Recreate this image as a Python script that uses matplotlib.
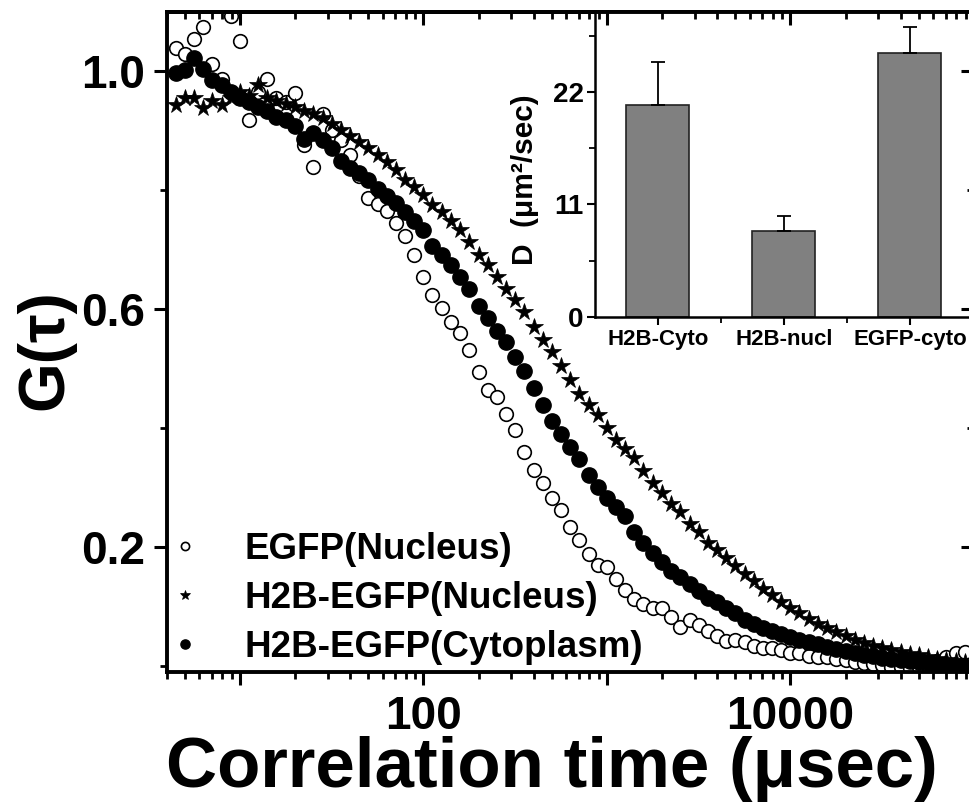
import numpy as np
import matplotlib
matplotlib.use("Agg")
import matplotlib.pyplot as plt
from matplotlib.ticker import LogLocator, NullFormatter, FixedLocator

plt.rcParams["font.family"] = ["Liberation Sans", "DejaVu Sans"]
plt.rcParams["font.weight"] = "bold"

# lag times (usec), shared by the three correlation curves
tau = [4.47, 5.01, 5.62, 6.31, 7.08, 7.94, 8.91,
       10, 11.2, 12.6, 14.1, 15.8, 17.8, 20, 22.4, 25.1, 28.2, 31.6, 35.5, 39.8, 44.7, 50.1, 56.2, 63.1, 70.8, 79.4, 89.1,
       100, 112, 126, 141, 158, 178, 200, 224, 251, 282, 316, 355, 398, 447, 501, 562, 631, 708, 794, 891,
       1000, 1120, 1260, 1410, 1580, 1780, 2000, 2240, 2510, 2820, 3160, 3550, 3980, 4470, 5010, 5620, 6310, 7080, 7940, 8910,
       10000, 11200, 12600, 14100, 15800, 17800, 20000, 22400, 25100, 28200, 31600, 35500, 39800, 44700, 50100, 56200, 63100, 70800, 79400, 89100]

g_egfp_nuc = [1.040, 1.030, 1.055, 1.074, 1.013, 0.988, 1.094,
              1.052, 0.918, 0.965, 0.987, 0.955, 0.948, 0.963, 0.876, 0.839, 0.929, 0.901, 0.884, 0.859, 0.825, 0.787, 0.777, 0.766, 0.746, 0.723, 0.691,
              0.654, 0.624, 0.602, 0.578, 0.561, 0.531, 0.494, 0.464, 0.452, 0.424, 0.397, 0.360, 0.329, 0.308, 0.282, 0.262, 0.234, 0.212, 0.188, 0.170,
              0.166, 0.146, 0.128, 0.113, 0.104, 0.097, 0.097, 0.082, 0.066, 0.077, 0.069, 0.059, 0.050, 0.042, 0.044, 0.040, 0.034, 0.030, 0.030, 0.027,
              0.022, 0.022, 0.017, 0.015, 0.015, 0.012, 0.010, 0.007, 0.005, 0.003, 0.002, -0.002, -0.002, -0.003, -0.002, 0.000, 0.008, 0.015, 0.022, 0.024]

g_h2b_nuc = [0.943, 0.955, 0.955, 0.939, 0.951, 0.943, 0.956,
             0.965, 0.958, 0.978, 0.955, 0.950, 0.946, 0.941, 0.934, 0.928, 0.921, 0.911, 0.901, 0.891, 0.881, 0.871, 0.859, 0.847, 0.834, 0.818, 0.805,
             0.792, 0.776, 0.763, 0.748, 0.733, 0.714, 0.692, 0.674, 0.655, 0.635, 0.615, 0.595, 0.571, 0.548, 0.528, 0.504, 0.481, 0.457, 0.439, 0.422,
             0.400, 0.380, 0.365, 0.350, 0.328, 0.308, 0.291, 0.272, 0.259, 0.239, 0.225, 0.207, 0.195, 0.182, 0.168, 0.155, 0.143, 0.129, 0.119, 0.108,
             0.097, 0.089, 0.079, 0.071, 0.064, 0.057, 0.050, 0.044, 0.039, 0.034, 0.030, 0.027, 0.024, 0.020, 0.018, 0.015, 0.012, 0.010, 0.008, 0.007]

g_h2b_cyto = [0.998, 1.002, 1.022, 1.005, 0.985, 0.978, 0.965,
              0.956, 0.948, 0.941, 0.933, 0.924, 0.918, 0.908, 0.887, 0.896, 0.884, 0.872, 0.850, 0.837, 0.830, 0.817, 0.802, 0.790, 0.778, 0.763, 0.748,
              0.733, 0.706, 0.691, 0.674, 0.654, 0.635, 0.605, 0.585, 0.563, 0.545, 0.519, 0.497, 0.467, 0.439, 0.413, 0.390, 0.368, 0.348, 0.321, 0.301,
              0.282, 0.267, 0.252, 0.225, 0.207, 0.190, 0.175, 0.160, 0.150, 0.138, 0.126, 0.114, 0.108, 0.097, 0.089, 0.077, 0.071, 0.064, 0.059, 0.054,
              0.049, 0.044, 0.040, 0.037, 0.032, 0.029, 0.025, 0.022, 0.018, 0.017, 0.013, 0.012, 0.010, 0.008, 0.007, 0.005, 0.003, 0.002, 0.000, -0.002]

# inset: diffusion coefficients
inset_labels = ["H2B-Cyto", "H2B-nucl", "EGFP-cyto"]
inset_d = [20.7, 8.4, 25.8]
inset_err = [4.2, 1.5, 2.5]

fig = plt.figure(figsize=(9.69, 8.08), dpi=100)
pos = [0.1723, 0.1683, 0.8328, 0.8168]
ax = fig.add_axes(pos)

ax.plot(tau, g_egfp_nuc, "o", ms=9.8, mfc="white", mec="black", mew=1.2, label="EGFP(Nucleus)")
ax.plot(tau, g_h2b_nuc, "*", ms=13, color="black", mew=0.5, label="H2B-EGFP(Nucleus)")
ax.plot(tau, g_h2b_cyto, "o", ms=11, color="black", label="H2B-EGFP(Cytoplasm)")

ax.set_xscale("log")
ax.set_xlim(4, 1e5)
ax.set_ylim(-0.01, 1.1)
ax.set_xticks([10, 100, 1000, 10000])
ax.set_xticklabels(["", "100", "", "10000"])
ax.xaxis.set_minor_locator(LogLocator(base=10, subs=range(2, 10)))
ax.xaxis.set_minor_formatter(NullFormatter())
ax.yaxis.set_major_locator(FixedLocator([0.2, 0.6, 1.0]))
ax.yaxis.set_minor_locator(FixedLocator([0.0, 0.4, 0.8]))
ax.set_yticklabels(["0.2", "0.6", "1.0"])
ax.tick_params(which="major", direction="out", length=9.5, width=2.2, labelsize=33, pad=6)
ax.tick_params(which="minor", direction="out", length=5, width=2)
ax.tick_params(axis="x", which="major", pad=7)
for s in ax.spines.values():
    s.set_linewidth(2.8)

ax.legend(loc="lower left", bbox_to_anchor=(0.0, 0.011), frameon=False, fontsize=26.5,
          markerscale=0.6, handlelength=1.0, handletextpad=1.1, borderpad=0,
          borderaxespad=0, labelspacing=0.38)

# inset bar chart
ins = fig.add_axes([0.614, 0.6077, 0.390, 0.3775])
xpos = np.arange(1, len(inset_labels) + 1)
ins.bar(xpos, inset_d, width=0.5, color="#808080", edgecolor="#222222", linewidth=1.2, zorder=2)
ins.errorbar(xpos, inset_d, yerr=[np.zeros(len(inset_err)), inset_err], fmt="none",
             ecolor="black", elinewidth=1.3, capsize=5, capthick=1.3, zorder=3)
ins.set_xlim(0.5, 3.5)
ins.set_ylim(0, 29.8)
ins.set_xticks(xpos)
ins.set_xticklabels(inset_labels, fontsize=16)
ins.set_xticks([1.5, 2.5], minor=True)
ins.set_yticks([0, 11, 22])
ins.set_yticks([5.5, 16.5, 27.5], minor=True)
ins.tick_params(which="major", direction="out", length=6, width=1.5, labelsize=20, pad=2)
ins.tick_params(axis="x", which="major", labelsize=16, pad=3)
ins.tick_params(which="minor", direction="out", length=4, width=1.3)
ins.spines["top"].set_visible(False)
ins.spines["right"].set_visible(False)
ins.spines["left"].set_linewidth(1.8)
ins.spines["bottom"].set_linewidth(1.8)
ins.text(-0.185, 0.449, "D  (\u03bcm\u00b2/sec)", transform=ins.transAxes, rotation=90,
         ha="center", va="center", fontsize=21.5)

# mirrored ticks on top and right, drawn over the inset
ov = fig.add_axes(pos, sharex=ax, sharey=ax)
ov.patch.set_visible(False)
ov.tick_params(which="both", direction="in", bottom=False, left=False, top=True, right=True,
               labelbottom=False, labelleft=False)
ov.tick_params(which="major", length=9.5, width=2.2)
ov.tick_params(which="minor", length=5, width=2)
ov.spines["left"].set_visible(False)
ov.spines["bottom"].set_visible(False)
ov.spines["top"].set_linewidth(2.8)
ov.spines["right"].set_linewidth(2.8)

fig.text(552 / 969, 0.048, "Correlation time (\u03bcsec)", fontsize=51, ha="center", va="center")
fig.text(45 / 969, 1 - 350 / 808, "G(\u03c4)", fontsize=46, rotation=90, ha="center", va="center")

fig.savefig("out.png", dpi=100)
